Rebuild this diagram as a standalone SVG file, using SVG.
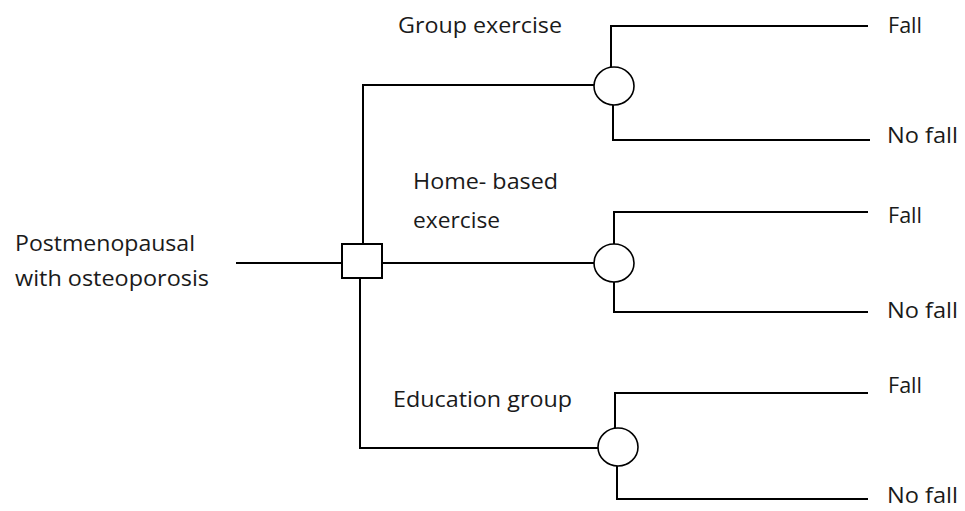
<svg xmlns="http://www.w3.org/2000/svg" width="965" height="511" viewBox="0 0 965 511">
<style>
.ln{stroke:#000;stroke-width:2;fill:none}
.nd{stroke:#000;stroke-width:1.6;fill:#fff}
.sq{stroke:#000;stroke-width:2;fill:#fff}
text{font-family:"Open Sans","Liberation Sans",sans-serif;font-size:22px;fill:#1a1a1a}
</style>
<rect width="965" height="511" fill="#fff"/>
<g id="connectors">
<path class="ln" d="M236 263H342"/>
<path class="ln" d="M363 244V85H594"/>
<path class="ln" d="M382 263H594"/>
<path class="ln" d="M360 278V448H598"/>
<path class="ln" d="M611 67V26H868"/>
<path class="ln" d="M613 105V140H870"/>
<path class="ln" d="M614 244V212H868"/>
<path class="ln" d="M614 282V312H868"/>
<path class="ln" d="M615 428V393H868"/>
<path class="ln" d="M617 466V499H868"/>
</g>
<g id="decision"><rect class="sq" x="342" y="244" width="40" height="34"/></g>
<g id="chance1"><ellipse class="nd" cx="614" cy="86" rx="20" ry="19"/></g>
<g id="chance2"><ellipse class="nd" cx="614" cy="263" rx="20" ry="19"/></g>
<g id="chance3"><ellipse class="nd" cx="618" cy="447" rx="20" ry="19"/></g>
<g id="labels">
<text x="15" y="251" textLength="180" lengthAdjust="spacingAndGlyphs">Postmenopausal</text>
<text x="15" y="286" textLength="194" lengthAdjust="spacingAndGlyphs">with osteoporosis</text>
<text x="398" y="33" textLength="164" lengthAdjust="spacingAndGlyphs">Group exercise</text>
<text x="413" y="189" textLength="145" lengthAdjust="spacingAndGlyphs">Home- based</text>
<text x="413" y="228" textLength="87" lengthAdjust="spacingAndGlyphs">exercise</text>
<text x="393" y="407" textLength="179" lengthAdjust="spacingAndGlyphs">Education group</text>
<text x="888" y="33" textLength="34" lengthAdjust="spacingAndGlyphs">Fall</text>
<text x="887" y="143" textLength="71" lengthAdjust="spacingAndGlyphs">No fall</text>
<text x="888" y="223" textLength="34" lengthAdjust="spacingAndGlyphs">Fall</text>
<text x="887" y="318" textLength="71" lengthAdjust="spacingAndGlyphs">No fall</text>
<text x="888" y="393" textLength="34" lengthAdjust="spacingAndGlyphs">Fall</text>
<text x="887" y="503" textLength="71" lengthAdjust="spacingAndGlyphs">No fall</text>
</g>
</svg>
